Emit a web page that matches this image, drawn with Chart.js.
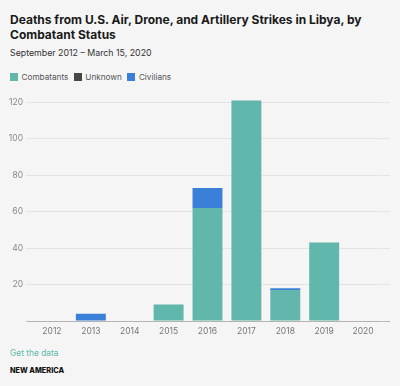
<!DOCTYPE html>
<html>
<head>
<meta charset="utf-8">
<script src="https://cdn.jsdelivr.net/npm/chart.js@4"></script>
<style>
  html, body { margin: 0; padding: 0; background: #f5f5f5; }
  body { width: 400px; height: 386px; position: relative; overflow: hidden; font-family: "Inter", "Lato", sans-serif; color: #222; }
  #title { position: absolute; left: 10px; top: 12px; width: 370px; font-size: 12px; font-weight: 700; line-height: 15px; color: #1a1a1a; }
  #subtitle { position: absolute; left: 10px; top: 47px; font-size: 8.8px; line-height: 11px; color: #333; }
  #legend { position: absolute; left: 10px; top: 71.5px; font-size: 8.2px; line-height: 10px; color: #555; display: flex; align-items: center; }
  .sw { display: inline-block; width: 8px; height: 8px; margin-right: 3.5px; }
  .li { display: flex; align-items: center; margin-right: 5.5px; }
  #wrap { position: absolute; left: 0; top: 90px; width: 400px; height: 251px; }
  #getdata { position: absolute; left: 10px; top: 348px; font-size: 8.4px; line-height: 10px; color: #5fb8ab; }
  #brand { position: absolute; left: 10px; top: 366px; font-size: 7.3px; line-height: 9px; font-weight: 800; color: #111; }
</style>
</head>
<body>
<div id="title">Deaths from U.S. Air, Drone, and Artillery Strikes in Libya, by Combatant Status</div>
<div id="subtitle">September 2012 – March 15, 2020</div>
<div id="legend"></div>
<div id="wrap"><canvas id="c"></canvas></div>
<div id="getdata">Get the data</div>
<div id="brand">NEW AMERICA</div>
<script>
const years = ["2012","2013","2014","2015","2016","2017","2018","2019","2020"];
const combatants = [0, 0, 0, 9, 62, 121, 17, 43, 0];
const unknown = [0, 0, 0, 0, 0, 0, 0, 0, 0];
const civilians = [0, 4, 0, 0, 11, 0, 1, 0, 0];
const seriesNames = ["Combatants", "Unknown", "Civilians"];
const seriesColors = ["#62b7ac", "#474747", "#3b80d8"];
const yTicks = [0, 20, 40, 60, 80, 100, 120];

const legend = document.getElementById('legend');
seriesNames.forEach((n, i) => {
  const d = document.createElement('span');
  d.className = 'li';
  d.innerHTML = '<span class="sw" style="background:' + seriesColors[i] + '"></span>' + n;
  legend.appendChild(d);
});

const ds = [combatants, unknown, civilians].map((data, i) => ({
  label: seriesNames[i],
  data: data,
  backgroundColor: seriesColors[i],
  borderWidth: 0,
  categoryPercentage: 1,
  barPercentage: 0.77
}));

const gridColor = ctx => (ctx.tick && ctx.tick.value === 0) ? '#b3b3b3' : '#e3e3e3';

new Chart(document.getElementById('c'), {
  type: 'bar',
  data: { labels: years, datasets: ds },
  options: {
    responsive: true,
    maintainAspectRatio: false,
    animation: false,
    layout: { padding: { left: 0, right: 10, top: 8, bottom: 0 } },
    plugins: { legend: { display: false }, tooltip: { enabled: false } },
    scales: {
      x: {
        stacked: true,
        grid: { display: false, drawTicks: false },
        border: { display: false },
        afterFit: scale => { scale.height = 20; },
        ticks: { color: '#777', font: { family: 'Inter', size: 8.5 }, padding: 5 }
      },
      y: {
        stacked: true,
        min: 0,
        max: 122,
        afterBuildTicks: axis => { axis.ticks = yTicks.map(v => ({ value: v })); },
        afterFit: scale => { scale.width = 32.5; },
        grid: { color: gridColor, tickColor: gridColor, drawTicks: true, tickLength: 6 },
        border: { display: false },
        ticks: { color: '#888', font: { family: 'Inter', size: 8.5 }, padding: 3.5,
                 callback: v => v === 0 ? '' : v }
      },
      y2: {
        position: 'right',
        min: 0,
        max: 122,
        afterBuildTicks: axis => { axis.ticks = yTicks.map(v => ({ value: v })); },
        afterFit: scale => { scale.width = 7.5; },
        grid: { color: gridColor, tickColor: gridColor, drawOnChartArea: false, drawTicks: true, tickLength: 7.5 },
        border: { display: false },
        ticks: { display: false }
      }
    }
  }
});
</script>
</body>
</html>
